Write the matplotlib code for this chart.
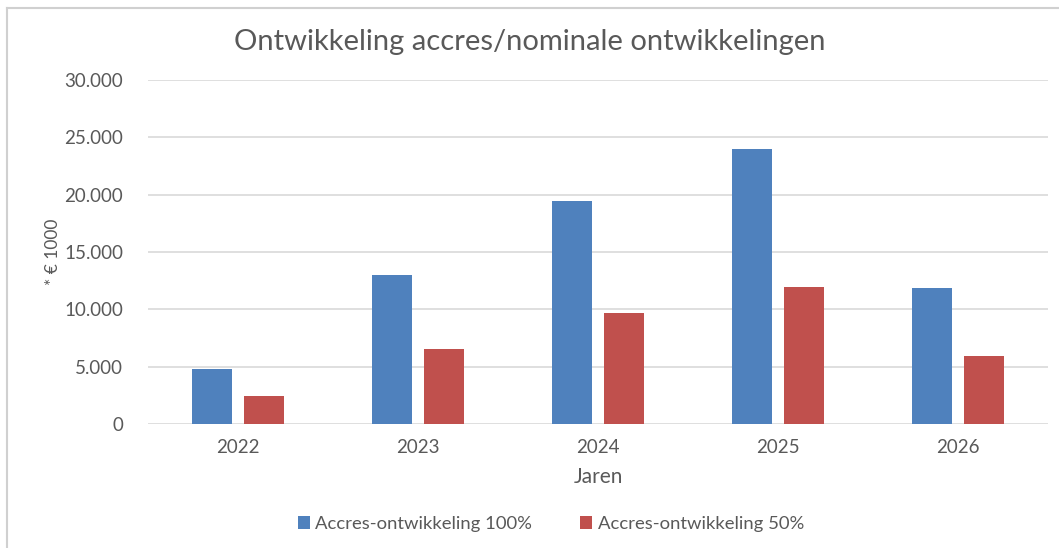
import matplotlib
matplotlib.use("Agg")
import matplotlib.pyplot as plt
import numpy as np
from matplotlib.ticker import FuncFormatter

plt.rcParams["font.family"] = ["Lato", "DejaVu Sans"]

years = ["2022", "2023", "2024", "2025", "2026"]
accres_100 = [4800, 13000, 19450, 23950, 11900]
accres_50 = [2400, 6550, 9700, 11950, 5950]

BLUE = "#4f81bd"
RED = "#c0504d"
TXT = "#595959"
GRID = "#d9d9d9"

W, H = 1059, 548
fig = plt.figure(figsize=(W / 100, H / 100), dpi=100)
ax = fig.add_axes([148 / W, 1 - 424 / H, 900 / W, 344 / H])

x = np.arange(len(years))
bw = 0.222
ax.bar(x - 0.142, accres_100, bw, color=BLUE, label="Accres-ontwikkeling 100%", zorder=3)
ax.bar(x + 0.142, accres_50, bw, color=RED, label="Accres-ontwikkeling 50%", zorder=3)

ax.set_xlim(-0.5, len(years) - 0.5)
ax.set_ylim(0, 30000)
ax.set_yticks(range(0, 30001, 5000))
ax.yaxis.set_major_formatter(FuncFormatter(lambda v, p: f"{int(v):,}".replace(",", ".")))
ax.set_xticks(x)
ax.set_xticklabels(years)
ax.grid(axis="y", color=GRID, linewidth=1.2, zorder=0)
for s in ax.spines.values():
    s.set_visible(False)
ax.tick_params(length=0, colors=TXT, labelsize=13.5)
ax.tick_params(axis="y", pad=18)
ax.tick_params(axis="x", pad=11)

ax.set_xlabel("Jaren", color=TXT, fontsize=15, labelpad=8)
ax.set_ylabel("* € 1000", color=TXT, fontsize=12.5, labelpad=2)

fig.text(0.5, 1 - 42 / H, "Ontwikkeling accres/nominale ontwikkelingen",
         ha="center", va="center", color=TXT, fontsize=21)

ax.legend(loc="center", bbox_to_anchor=(551 / W, 1 - 524 / H), bbox_transform=fig.transFigure,
          ncol=2, frameon=False, fontsize=13.3, labelcolor=TXT, handlelength=0.65,
          handleheight=0.65, handletextpad=0.3, columnspacing=2.6)

# light outer frame of the chart area
fig.add_artist(plt.Line2D([7 / W, 7 / W], [0, 1 - 8 / H], color="#d0d0d0", lw=1.5,
                          transform=fig.transFigure))
fig.add_artist(plt.Line2D([7 / W, 1], [1 - 8 / H, 1 - 8 / H], color="#d0d0d0", lw=1.5,
                          transform=fig.transFigure))

fig.savefig("out.png", dpi=100)
